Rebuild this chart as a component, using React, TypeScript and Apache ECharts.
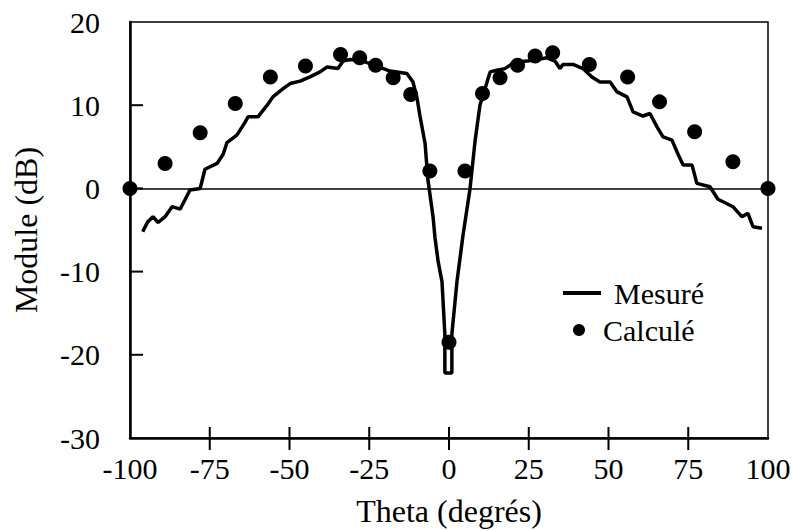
import React, { useEffect, useRef } from "react";
import * as echarts from "echarts";

// Measured (Mesuré): [theta in degrees, module in dB]
const measuredTheta = [
  -96, -95.5, -94.4, -92.8, -91.2, -89, -86.8, -84.3, -82.8, -81.2, -78, -76.5, -72.7, -70.8, -69.6,
  -66.5, -64, -63, -59.9, -57, -55.2, -52, -49.8, -46.7, -43.6, -40.4, -38.2, -34.8, -33.2, -31, -27,
  -22.6, -18.5, -13.2, -11.3, -10, -9.1, -7.5, -6.6, -5, -4.4, -3.4, -2.2, -1.3, -1.3, 0.9, 0.9, 2.5,
  4.4, 6.6, 8.2, 9.7, 11.3, 12.9, 15, 17.5, 20.7, 24.5, 27.6, 30.7, 33.2, 34.8, 35.7, 38.9, 42, 44.8,
  47.3, 50.5, 52.7, 55.8, 57.7, 60.8, 63, 65.2, 67.1, 69.9, 71.8, 73.4, 76.2, 77.7, 81.8, 84.3, 85.9,
  89, 91.8, 93.7, 95.3, 98.1,
];
const measuredDb = [
  -5.2, -4.8, -4.0, -3.4, -4.1, -3.4, -2.2, -2.5, -1.4, -0.2, 0, 2.3, 3, 4.1, 5.5,
  6.4, 7.9, 8.6, 8.6, 10, 11, 12, 12.6, 12.9, 13.4, 14, 14.6, 14.4, 15.3, 15.5, 15.3,
  14.7, 14.1, 13.8, 12.8, 10.8, 8.7, 5.4, 1, -3.4, -5.9, -8.8, -11.2, -17.5, -22.2, -22.2, -17.5, -11.2,
  -5.6, 0, 5.8, 10, 12, 14, 14.2, 14.4, 15.2, 15.3, 15.5, 15.7, 15.3, 14.4, 14.9, 14.9, 14.4, 13.4,
  12.8, 12.8, 11.6, 11, 9.2, 8.7, 9, 7.4, 6.2, 5.8, 4.1, 2.8, 2.8, 0.6, 0.2, -1.3, -1.6,
  -2.2, -3.4, -3, -4.6, -4.8,
];

// Calculated (Calculé)
const calcTheta = [
  -100, -89, -78, -67, -56, -45, -34, -28, -23, -17.5, -12, -6, 0, 5, 10.5, 16, 21.5, 27, 32.5, 44, 56,
  66, 77, 89, 100,
];
const calcDb = [
  0, 3, 6.7, 10.2, 13.4, 14.7, 16.1, 15.7, 14.8, 13.3, 11.3, 2.1, -18.5, 2.1, 11.4, 13.3, 14.8, 15.9,
  16.3, 14.9, 13.4, 10.4, 6.8, 3.2, 0,
];

// crossing tick marks (interior values only)
const xTicks = [-75, -50, -25, 0, 25, 50, 75];
const yTicks = [-20, -10, 0, 10];

const X_MIN = -100, X_MAX = 100, Y_MIN = -30, Y_MAX = 20;
const FONT = "'Liberation Serif', 'Times New Roman', serif";

// grid size in pixels, used to express tick lengths in data units
const GRID_W = 638, GRID_H = 416;

export default function App() {
  const ref = useRef<HTMLDivElement>(null);
  useEffect(() => {
    if (!ref.current) return;
    const chart = echarts.init(ref.current, null, { renderer: "svg" });
    const measured = measuredTheta.map((t, i) => [t, measuredDb[i]]);
    const calc = calcTheta.map((t, i) => [t, calcDb[i]]);

    const yPerPx = (Y_MAX - Y_MIN) / GRID_H;
    const xPerPx = (X_MAX - X_MIN) / GRID_W;
    const tickSeries = (pts: number[][]) => ({
      type: "line",
      data: pts,
      clip: false,
      silent: true,
      symbol: "none",
      showSymbol: false,
      lineStyle: { color: "#000", width: 2 },
      z: 6,
      tooltip: { show: false },
    });
    const xTickSeries = xTicks.map((v) =>
      tickSeries([
        [v, Y_MIN - 12 * yPerPx],
        [v, Y_MIN + 11 * yPerPx],
      ])
    );
    const yTickSeries = yTicks.map((v) =>
      tickSeries([
        [X_MIN - 17 * xPerPx, v],
        [X_MIN + 13 * xPerPx, v],
      ])
    );

    chart.setOption({
      animation: false,
      backgroundColor: "#fff",
      grid: {
        left: 130, top: 22, right: 25, bottom: 93,
        outerBoundsMode: "none",
        containLabel: false,
        show: true, borderColor: "#000", borderWidth: 1.5, backgroundColor: "transparent",
      },
      legend: [
        {
          data: [{ name: "Mesuré", icon: "rect" }],
          left: 563, top: 278, padding: 0, itemWidth: 38, itemHeight: 4,
          textStyle: { fontFamily: FONT, fontSize: 30, color: "#000", padding: [0, 0, 0, 8] },
          itemStyle: { color: "#000" },
        },
        {
          data: [{ name: "Calculé", icon: "circle" }],
          left: 573, top: 315, padding: 0, itemWidth: 26, itemHeight: 12,
          textStyle: { fontFamily: FONT, fontSize: 30, color: "#000", padding: [0, 0, 0, 6] },
          itemStyle: { color: "#000", opacity: 1 },
        },
      ],
      xAxis: {
        type: "value", min: X_MIN, max: X_MAX, interval: 25, splitLine: { show: false },
        position: "bottom",
        name: "Theta (degrés)",
        nameLocation: "middle",
        nameGap: 57,
        nameTextStyle: { fontFamily: FONT, fontSize: 32, color: "#000" },
        axisLine: { onZero: false, lineStyle: { color: "#000", width: 2.5 } },
        axisTick: { show: false },
        axisLabel: { margin: 15, fontFamily: FONT, fontSize: 30, color: "#000" },
      },
      yAxis: {
        type: "value", min: Y_MIN, max: Y_MAX, interval: 10, splitLine: { show: false },
        position: "left",
        name: "Module (dB)",
        nameLocation: "middle",
        nameGap: 88,
        nameTextStyle: { fontFamily: FONT, fontSize: 32, color: "#000" },
        axisLine: { onZero: false, lineStyle: { color: "#000", width: 2.5 } },
        axisTick: { show: false },
        axisLabel: { margin: 30, fontFamily: FONT, fontSize: 30, color: "#000" },
      },
      series: [
        ...xTickSeries,
        ...yTickSeries,
        {
          name: "Mesuré",
          type: "line",
          data: measured,
          showSymbol: false,
          symbol: "none",
          lineStyle: { color: "#000", width: 3.5 },
          itemStyle: { color: "#000" },
          z: 2,
        },
        {
          name: "Calculé",
          type: "scatter",
          data: calc,
          symbol: "circle",
          symbolSize: 15,
          itemStyle: { color: "#000", opacity: 1 },
          z: 3,
          markLine: {
            silent: true,
            symbol: "none",
            label: { show: false },
            lineStyle: { color: "#000", width: 1.5, type: "solid" },
            data: [{ yAxis: 0 }],
          },
        },
      ],
    });

    return () => chart.dispose();
  }, []);
  return (
    <div
      ref={ref}
      style={{ position: "absolute", left: 0, top: 0, width: 793, height: 531 }}
    />
  );
}
